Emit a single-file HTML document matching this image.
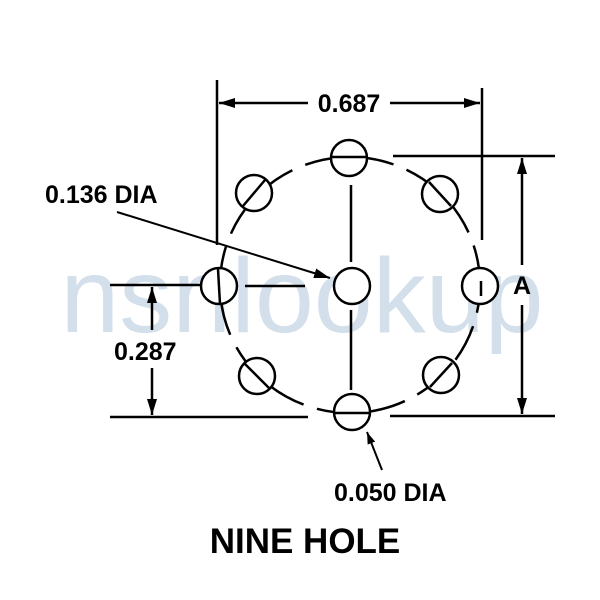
<!DOCTYPE html>
<html><head><style>body{margin:0;background:#fff}svg{display:block}</style></head><body>
<svg width="600" height="600" viewBox="0 0 600 600" xmlns="http://www.w3.org/2000/svg" font-family="Liberation Sans, Arial, sans-serif" font-weight="bold">
<text x="302" y="332" font-size="106" font-weight="normal" fill="#d3dfeb" text-anchor="middle">nsnlookup</text>
<defs><marker id="a" markerWidth="12" markerHeight="8" refX="12" refY="4" orient="auto" markerUnits="userSpaceOnUse"><path d="M0,0 L12,4 L0,8 z" fill="#000"/></marker>
<marker id="b" markerWidth="16" markerHeight="10" refX="16" refY="5" orient="auto" markerUnits="userSpaceOnUse"><path d="M0,0 L16,5 L0,10 z" fill="#000"/></marker></defs>
<g stroke="#000" stroke-width="2.5" fill="none">
<ellipse cx="350" cy="285" rx="130" ry="128" stroke-dasharray="38,14" stroke-dashoffset="10"/>
<line x1="351" y1="185" x2="351" y2="262"/><line x1="351" y1="310" x2="351" y2="390"/>
<line x1="245" y1="286" x2="305" y2="286"/>
<g fill="#fff">
<circle cx="349" cy="158" r="18"/><circle cx="352" cy="286" r="18"/><circle cx="219" cy="286" r="18"/><circle cx="480" cy="286" r="18"/><circle cx="352" cy="412" r="18"/>
<circle cx="254" cy="193" r="18"/><circle cx="440" cy="194" r="18"/><circle cx="257" cy="376" r="18"/><circle cx="441" cy="375" r="18"/>
</g>
<line x1="331" y1="157" x2="367" y2="157"/><line x1="334" y1="413" x2="370" y2="413"/>
<line x1="218" y1="269" x2="220" y2="304"/><line x1="481" y1="281" x2="481" y2="296"/>
<line x1="243" y1="206" x2="265" y2="180"/><line x1="429" y1="182" x2="451" y2="206"/>
<line x1="245" y1="364" x2="269" y2="388"/><line x1="430" y1="387" x2="452" y2="363"/>
<line x1="217" y1="80" x2="217" y2="245"/><line x1="482" y1="88" x2="482" y2="240"/>
<line x1="308" y1="103" x2="219" y2="103" marker-end="url(#b)"/><line x1="390" y1="103" x2="480" y2="103" marker-end="url(#b)"/>
<line x1="393" y1="156" x2="555" y2="156"/><line x1="390" y1="416" x2="555" y2="416"/>
<line x1="522" y1="265" x2="522" y2="158" marker-end="url(#b)"/><line x1="522" y1="305" x2="522" y2="414" marker-end="url(#b)"/>
<line x1="110" y1="285" x2="200" y2="285"/><line x1="110" y1="417" x2="308" y2="417"/>
<line x1="152" y1="330" x2="152" y2="287" marker-end="url(#b)"/><line x1="152" y1="368" x2="152" y2="415" marker-end="url(#b)"/>
<line x1="117" y1="212" x2="330" y2="278" stroke-width="2" marker-end="url(#b)"/>
<line x1="382" y1="470" x2="367" y2="432" stroke-width="2" marker-end="url(#a)"/>
</g>
<g font-size="25" fill="#000">
<text x="349" y="112" text-anchor="middle">0.687</text>
<text x="45" y="203">0.136 DIA</text>
<text x="114" y="360">0.287</text>
<text x="513" y="294">A</text>
<text x="334" y="501">0.050 DIA</text>
</g>
<text x="305" y="553" font-size="35" text-anchor="middle" fill="#000">NINE HOLE</text>
</svg>
</body></html>
